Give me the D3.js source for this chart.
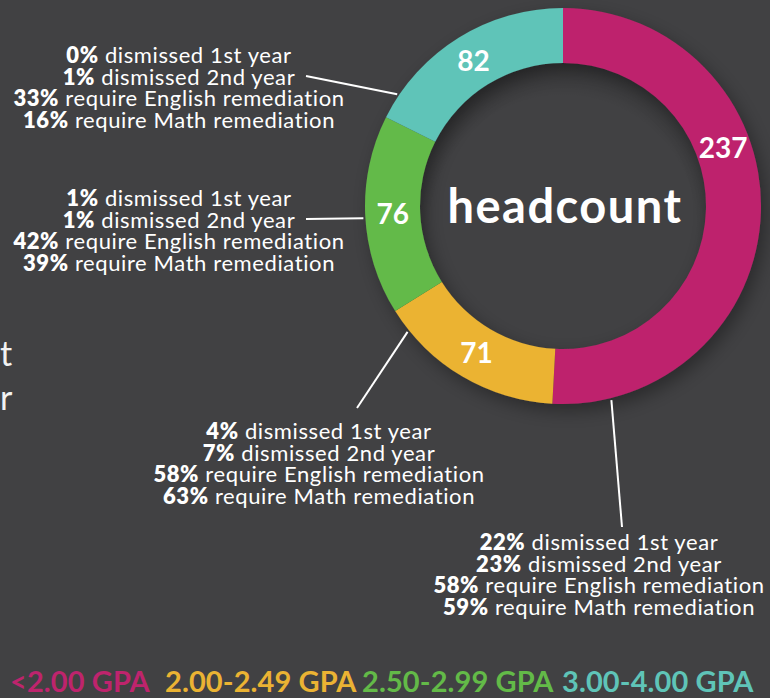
<!DOCTYPE html>
<html>
<head>
<meta charset="utf-8">
<script src="https://cdn.jsdelivr.net/npm/d3@7"></script>
<style>
  html, body { margin: 0; padding: 0; background: #414143; }
  svg { display: block; font-family: Lato, "Noto Sans", sans-serif; }
</style>
</head>
<body>
<div id="chart"></div>
<script>
// GPA bands, headcount per band and outcomes per band
const groups = ['<2.00 GPA', '2.00-2.49 GPA', '2.50-2.99 GPA', '3.00-4.00 GPA'];
const headcount = [237, 71, 76, 82];
const colors = ['#be246d', '#ebb333', '#63ba48', '#5fc4b8'];
const dismissed1st = [22, 4, 1, 0];
const dismissed2nd = [23, 7, 1, 1];
const englishRem = [58, 58, 42, 33];
const mathRem = [59, 63, 39, 16];

const width = 770, height = 698;
const cx = 563, cy = 206;
const outerR = 198, innerR = 143;

// layout of the callout blocks (centre x, first baseline) and leader lines
const calloutPos = [[599, 550], [319, 439], [179, 206], [179, 63]];
const leaderAngle = [166, 231, 266.5, 304];     // degrees clockwise from top
const leaderEnd = [[622, 527], [357, 408], [306, 219], [306, 76]];
const valueLabelAngle = [70, null, null, null];

const rows = i => [
  [dismissed1st[i] + '%', ' dismissed 1st year'],
  [dismissed2nd[i] + '%', ' dismissed 2nd year'],
  [englishRem[i] + '%', ' require English remediation'],
  [mathRem[i] + '%', ' require Math remediation']
];

const svg = d3.select('#chart').append('svg')
  .attr('width', width).attr('height', height);

svg.append('rect').attr('width', width).attr('height', height).attr('fill', '#414143');

const defs = svg.append('defs');
const shadow = defs.append('filter').attr('id', 'shadow')
  .attr('x', '-30%').attr('y', '-30%').attr('width', '160%').attr('height', '160%');
shadow.append('feDropShadow').attr('dx', 5).attr('dy', 7).attr('stdDeviation', 9)
  .attr('flood-color', '#000').attr('flood-opacity', 0.35);

const inner = defs.append('radialGradient').attr('id', 'innerShade')
  .attr('cx', '50%').attr('cy', '58%').attr('r', '58%');
inner.append('stop').attr('offset', '80%').attr('stop-color', '#000').attr('stop-opacity', 0);
inner.append('stop').attr('offset', '100%').attr('stop-color', '#000').attr('stop-opacity', 0.18);

// stray letters at the left edge (rest of that text is outside the frame)
svg.append('text').attr('x', 0).attr('y', 366).attr('fill', '#f2f2f2')
  .attr('font-size', 34).text('t');
svg.append('text').attr('x', 0).attr('y', 410).attr('fill', '#f2f2f2')
  .attr('font-size', 34).text('r');

const g = svg.append('g').attr('transform', `translate(${cx},${cy})`);

const pie = d3.pie().sort(null).value(d => d)(headcount);
const arc = d3.arc().innerRadius(innerR).outerRadius(outerR);

g.append('g').attr('filter', 'url(#shadow)')
  .selectAll('path').data(pie).join('path')
  .attr('d', arc)
  .attr('fill', (d, i) => colors[i]);

g.append('circle').attr('r', innerR).attr('fill', 'url(#innerShade)');

// value labels on the ring
const midR = (innerR + outerR) / 2;
g.selectAll('.val').data(pie).join('text')
  .attr('class', 'val')
  .attr('transform', (d, i) => {
    if (valueLabelAngle[i] != null) {
      const a = valueLabelAngle[i] * Math.PI / 180;
      return `translate(${midR * Math.sin(a)},${-midR * Math.cos(a)})`;
    }
    return `translate(${arc.centroid(d)})`;
  })
  .attr('text-anchor', 'middle').attr('dy', '0.36em')
  .attr('fill', '#fff').attr('font-size', 28).attr('font-weight', 700)
  .text(d => d.value);

g.append('text')
  .attr('text-anchor', 'middle').attr('dy', '0.36em').attr('x', 2)
  .attr('fill', '#fff').attr('font-size', 47).attr('font-weight', 700)
  .attr('letter-spacing', 1.5)
  .text('headcount');

// leader lines
const r0 = outerR + 2;
svg.selectAll('.leader').data(groups).join('line')
  .attr('class', 'leader')
  .attr('x1', (d, i) => cx + r0 * Math.sin(leaderAngle[i] * Math.PI / 180))
  .attr('y1', (d, i) => cy - r0 * Math.cos(leaderAngle[i] * Math.PI / 180))
  .attr('x2', (d, i) => leaderEnd[i][0])
  .attr('y2', (d, i) => leaderEnd[i][1])
  .attr('stroke', '#fff').attr('stroke-width', 2);

// callout text blocks
const lineH = 21.7;
groups.forEach((grp, i) => {
  const t = svg.append('text')
    .attr('text-anchor', 'middle').attr('fill', '#fff')
    .attr('font-size', 22).attr('letter-spacing', 0.6);
  rows(i).forEach((r, k) => {
    const line = t.append('tspan')
      .attr('x', calloutPos[i][0]).attr('y', calloutPos[i][1] + k * lineH);
    line.append('tspan').attr('font-weight', 800).text(r[0]);
    line.append('tspan').text(r[1]);
  });
});

// legend
const legend = svg.append('text').attr('y', 692)
  .attr('font-size', 29).attr('font-weight', 700).attr('letter-spacing', 0.1);
const legendX = [10, 165, 362, 562];
groups.forEach((grp, i) => {
  legend.append('tspan').attr('x', legendX[i]).attr('fill', colors[i]).text(grp);
});
</script>
</body>
</html>
